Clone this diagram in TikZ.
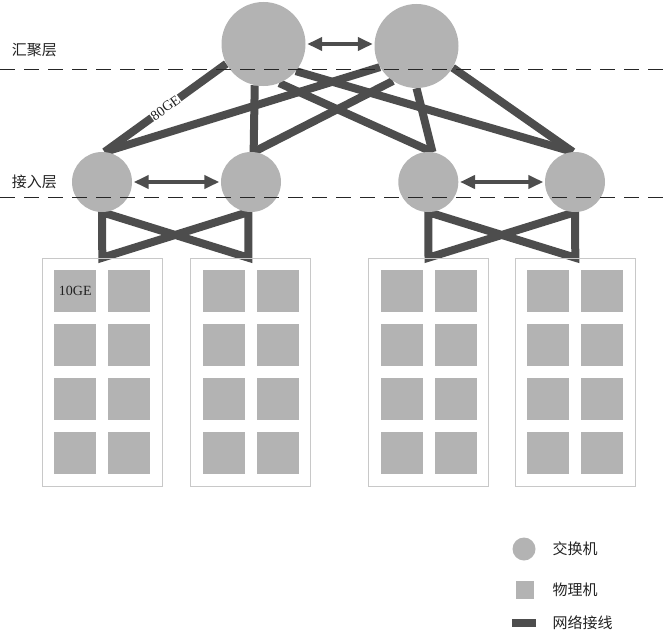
\documentclass[tikz,border=0pt]{standalone}
\usepackage{fontspec}
\setmainfont{Liberation Serif}
\newfontfamily\cjk{Noto Sans CJK SC}
\usetikzlibrary{arrows.meta,backgrounds}
\definecolor{nodegray}{HTML}{B3B3B3}
\definecolor{linkgray}{HTML}{4D4D4D}
\definecolor{rackgray}{HTML}{C8C8C8}
\definecolor{txt}{HTML}{222222}
\begin{document}
\begin{tikzpicture}[x=1pt,y=-1pt,
  sw/.style={circle, fill=nodegray, inner sep=0pt, minimum size=#1},
  core/.style={sw=84pt},
  acc/.style={sw=60pt},
  rack/.style={draw=rackgray, line width=1pt, minimum width=120pt, minimum height=228pt, inner sep=0pt},
  pm/.style={fill=nodegray, minimum size=42pt, inner sep=0pt},
  link/.style={draw=linkgray, line width=8pt},
  biarrow/.style={draw=linkgray, line width=4pt, {Triangle[length=15pt,width=13pt]}-{Triangle[length=15pt,width=13pt]}, shorten >=1.5pt, shorten <=1.5pt},
  layerline/.style={draw=black!85, line width=0.9pt, dash pattern=on 15pt off 9pt},
  lbl/.style={font=\cjk\fontsize{15}{15}\selectfont, text=txt, inner sep=0pt},
  ge/.style={font=\fontsize{14}{14}\selectfont, text=txt, inner sep=0.5pt}
]
\useasboundingbox (0,0) rectangle (669,634);

% switches
\node[core] (c1) at (263.5,44) {};
\node[core] (c2) at (416.5,46) {};
\node[acc] (a1) at (102,182) {};
\node[acc] (a2) at (251,182) {};
\node[acc] (a3) at (428.3,182) {};
\node[acc] (a4) at (575,182) {};

% racks and physical machines
\foreach \r/\cx in {1/102.3, 2/250.9, 3/428.5, 4/575.3} {
  \node[rack] (r\r) at (\cx,372.2) {};
  \foreach \c/\dx in {1/-27, 2/27} {
    \foreach \k/\dy in {1/-81, 2/-27, 3/27, 4/81} {
      \node[pm] (s\r-\c-\k) at ({\cx+(\dx)},{372.2+(\dy)}) {};
    }
  }
}
\node[ge] (ten) at (s1-1-1) {10GE};

% layer labels
\node[lbl] (l1) at (34.5,50) {汇聚层};
\node[lbl] (l2) at (34.5,181.5) {接入层};

% links
\begin{scope}[on background layer]
  \draw[link] (c1.208) -- node[sloped, ge, fill=white] (lab80) {80GE} (a1.85);
  \draw[link] (c2.210) -- (a1.85);
  \draw[link] (c1.258) -- (a2.85);
  \draw[link] (c2.236) -- (a2.85);
  \draw[link] (c1.292) -- (a3.82);
  \draw[link] (c2.270) -- (a3.82);
  \draw[link] (c1.320) -- (a4.94);
  \draw[link] (c2.329) -- (a4.94);
  \draw[link, line join=miter] (a1.south) -- (a2.265 |- r2.north) -- (a2.265) -- (r1.north) -- cycle;
  \draw[link, line join=miter] (a3.south) -- (r4.north) -- (a4.south) -- (r3.north) -- cycle;
\end{scope}

% arrows between peers
\draw[biarrow] (c1.east) -- (c1.east -| c2.west);
\draw[biarrow] (a1) -- (a2);
\draw[biarrow] (a3) -- (a4);

% layer boundaries
\coordinate (d1a) at (0,69);
\coordinate (d1b) at (669,69);
\coordinate (d2a) at (0,197);
\coordinate (d2b) at (669,197);
\draw[layerline] (d1a) -- (d1b);
\draw[layerline] (d2a) -- (d2b);

% legend
\node[sw=23pt] (lg1) at (524,549) {};
\node[lbl, anchor=west] (lt1) at (552.5,549) {交换机};
\node[pm, minimum size=18pt] (lg2) at (524.5,590) {};
\node[lbl, anchor=west] (lt2) at (552.5,590) {物理机};
\node[fill=linkgray, minimum width=24pt, minimum height=8pt, inner sep=0pt] (lg3) at (524,623) {};
\node[lbl, anchor=west] (lt3) at (552.5,623) {网络接线};
\end{tikzpicture}
\end{document}
